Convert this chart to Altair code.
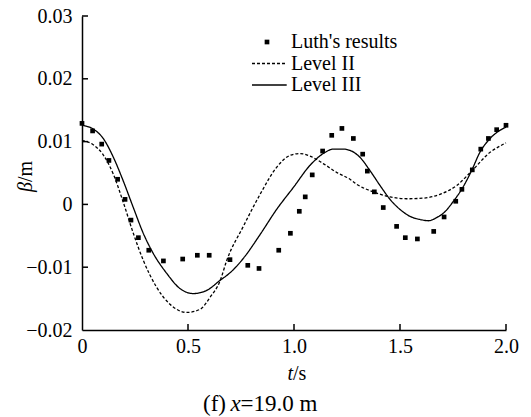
import altair as alt
import pandas as pd

# ---------------- data ----------------
luth_t = [0.0, 0.050, 0.093, 0.127, 0.168, 0.203, 0.231, 0.266, 0.315, 0.384,
          0.475, 0.544, 0.600, 0.698, 0.782, 0.835, 0.928, 0.983, 1.025, 1.053,
          1.086, 1.135, 1.178, 1.226, 1.280, 1.324, 1.346, 1.379, 1.421, 1.484,
          1.525, 1.582, 1.659, 1.708, 1.763, 1.792, 1.841, 1.881, 1.917, 1.956, 2.0]
luth_beta = [0.0129, 0.0117, 0.0096, 0.0070, 0.0040, 0.0008, -0.0025, -0.0053, -0.0073, -0.0090,
             -0.0087, -0.0081, -0.0081, -0.0088, -0.0097, -0.0102, -0.0073, -0.0046, -0.0011, 0.0012,
             0.0047, 0.0085, 0.0110, 0.0121, 0.0105, 0.0080, 0.0053, 0.0020, -0.0005, -0.0035,
             -0.0053, -0.0055, -0.0043, -0.0020, 0.0005, 0.0024, 0.0055, 0.0088, 0.0105, 0.0119, 0.0126]

l2_t = [0.0, 0.053, 0.100, 0.148, 0.195, 0.242, 0.289, 0.352, 0.415, 0.494,
        0.557, 0.604, 0.651, 0.683, 0.761, 0.840, 0.918, 0.981, 1.028, 1.075,
        1.138, 1.201, 1.264, 1.296, 1.374, 1.453, 1.531, 1.610, 1.689, 1.767,
        1.846, 1.925, 1.972, 2.0]
l2_beta = [0.0102, 0.0095, 0.0079, 0.0048, 0.0003, -0.0046, -0.0089, -0.0132, -0.0159, -0.0172,
           -0.0167, -0.0148, -0.0122, -0.0089, -0.0035, 0.0016, 0.0059, 0.0078, 0.0081, 0.0077,
           0.0065, 0.0051, 0.0040, 0.0032, 0.0020, 0.0012, 0.0009, 0.0010, 0.0016, 0.0030,
           0.0056, 0.0083, 0.0093, 0.0098]

l3_t = [0.0, 0.053, 0.100, 0.148, 0.195, 0.242, 0.289, 0.336, 0.400, 0.462,
        0.525, 0.588, 0.651, 0.698, 0.761, 0.840, 0.918, 0.997, 1.075, 1.138,
        1.186, 1.233, 1.264, 1.311, 1.358, 1.406, 1.453, 1.500, 1.547, 1.594,
        1.634, 1.673, 1.708, 1.752, 1.791, 1.838, 1.877, 1.925, 1.972, 2.0]
l3_beta = [0.0126, 0.0120, 0.0105, 0.0075, 0.0037, -0.0005, -0.0046, -0.0078, -0.0110, -0.0134,
           -0.0142, -0.0137, -0.0121, -0.0109, -0.0086, -0.0048, -0.0008, 0.0027, 0.0062, 0.0081,
           0.0088, 0.0088, 0.0086, 0.0075, 0.0054, 0.0030, 0.0008, -0.0008, -0.0019, -0.0024,
           -0.0026, -0.0021, -0.0013, 0.0005, 0.0024, 0.0054, 0.0083, 0.0105, 0.0118, 0.0123]

series_names = ["Luth's results", "Level II", "Level III"]
x_ticks = [0, 0.5, 1.0, 1.5, 2.0]
y_ticks = [-0.02, -0.01, 0, 0.01, 0.02, 0.03]

# ---------------- styling ----------------
W, H = 424, 314
FONT = "Liberation Serif"
TICK_LEN = 6
LEG_X, LEG_Y, ROW = 175, 16, 21.5
line_symbol = "M-6.4,0H8.4"

luth_df = pd.DataFrame({"t": luth_t, "beta": luth_beta, "series": series_names[0]})
lines_df = pd.concat([
    pd.DataFrame({"t": l2_t, "beta": l2_beta, "series": series_names[1]}),
    pd.DataFrame({"t": l3_t, "beta": l3_beta, "series": series_names[2]}),
])

xs = alt.Scale(domain=[0, 2], nice=False, zero=False)
ys = alt.Scale(domain=[-0.02, 0.03], nice=False, zero=False)

x_axis = alt.Axis(values=x_ticks, title=None, ticks=False, grid=False,
                  labelExpr="datum.value == 0 ? '0' : format(datum.value, '.1f')",
                  labelPadding=6, labelFlush=False, labelFont=FONT, labelFontSize=20,
                  labelColor="black")
y_axis = alt.Axis(values=y_ticks, title=None, ticks=False, grid=False,
                  labelExpr="datum.value == 0 ? '0' : format(datum.value, '.2f')",
                  labelPadding=10, labelFont=FONT, labelFontSize=20, labelColor="black")

X = alt.X("t:Q", scale=xs, axis=x_axis)
Y = alt.Y("beta:Q", scale=ys, axis=y_axis)

common_legend = dict(title=None, orient="none", labelFont=FONT, labelFontSize=20,
                     labelColor="black", symbolSize=22, labelOffset=14, rowPadding=0,
                     padding=0, symbolOpacity=1)

lines = alt.Chart(lines_df).mark_line(color="black", strokeWidth=1.3,
                                      interpolate="monotone").encode(
    x=X, y=Y,
    strokeDash=alt.StrokeDash(
        "series:N",
        scale=alt.Scale(domain=series_names[1:], range=[[3, 2], [1, 0]]),
        legend=alt.Legend(legendX=LEG_X, legendY=LEG_Y + ROW, symbolType=line_symbol,
                          symbolStrokeColor="black", symbolStrokeWidth=1.3,
                          rowPadding=ROW - 20,
                          **{k: v for k, v in common_legend.items() if k != "rowPadding"})),
)

points = alt.Chart(luth_df).mark_point(filled=True, color="black", size=22,
                                       opacity=1).encode(
    x=X, y=Y,
    shape=alt.Shape("series:N",
                    scale=alt.Scale(domain=series_names[:1], range=["square"]),
                    legend=alt.Legend(legendX=LEG_X, legendY=LEG_Y,
                                      symbolFillColor="black", **common_legend)),
)

# inward ticks
xt_df = pd.DataFrame({"v": x_ticks[1:]})
yt_df = pd.DataFrame({"v": y_ticks[1:]})
xticks = alt.Chart(xt_df).mark_rule(color="black", strokeWidth=1.5).encode(
    x=alt.X("v:Q", scale=xs, axis=x_axis), y=alt.value(H), y2=alt.value(H - TICK_LEN))
yticks = alt.Chart(yt_df).mark_rule(color="black", strokeWidth=1.5).encode(
    y=alt.Y("v:Q", scale=ys, axis=y_axis), x=alt.value(0), x2=alt.value(TICK_LEN))

# titles with mixed italic
one = pd.DataFrame({"a": [0]})


def txt(s, x, y, size=20, italic=False, align="left", baseline="alphabetic", angle=0):
    kw = dict(text=s, font=FONT, fontSize=size, color="black", align=align,
              baseline=baseline, angle=angle)
    if italic:
        kw["fontStyle"] = "italic"
    return alt.Chart(one).mark_text(**kw).encode(x=alt.value(x), y=alt.value(y))


titles = [
    txt("β", -56, 166, italic=True, align="right", baseline="middle", angle=270),
    txt("/m", -56, 166, align="left", baseline="middle", angle=270),
    txt("t", 211, 364, italic=True, align="right"),
    txt("/s", 211, 364, align="left"),
    txt("(f)", 144, 395, size=23, align="right"),
    txt("x", 148.5, 395, size=23, italic=True, align="left"),
    txt("=19.0 m", 158.5, 395, size=23, align="left"),
]

chart = alt.layer(lines, points, xticks, yticks, *titles).properties(
    width=W, height=H,
    background="white",
    autosize=alt.AutoSizeParams(type="none"),
    padding={"left": 82, "top": 16, "right": 25, "bottom": 87},
).configure_view(stroke=None).configure_axis(
    domainColor="black", domainWidth=1.5, labelFont=FONT, labelFontSize=20,
    labelColor="black",
).configure_legend(labelFont=FONT)

chart.save("out.html", embed_options={"renderer": "svg", "actions": False})
